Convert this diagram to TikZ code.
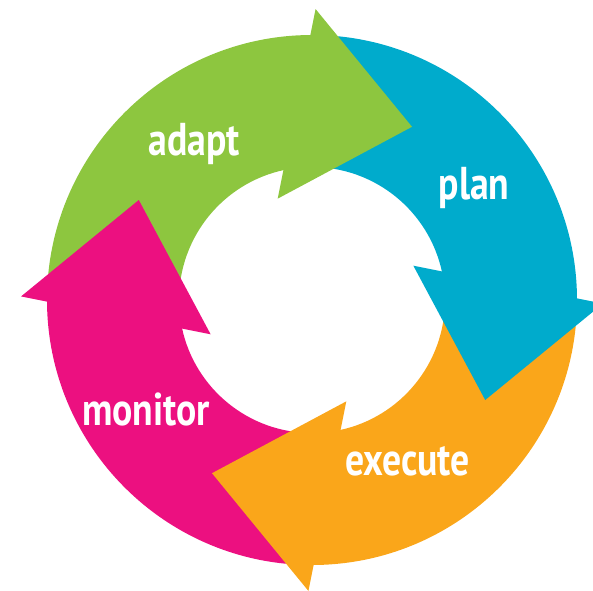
\documentclass[tikz,border=0pt]{standalone}
\usepackage{fontspec}
\newfontfamily\lblfont[FakeStretch=0.82]{PT Sans}
\definecolor{cgreen}{RGB}{141,198,63}
\definecolor{cblue}{RGB}{0,171,204}
\definecolor{corange}{RGB}{250,166,26}
\definecolor{cpink}{RGB}{236,16,128}
\begin{document}
\begin{tikzpicture}[x=1pt,y=1pt,
  lbl/.style={text=white, inner sep=0pt, anchor=base,
    font={\lblfont\bfseries\fontsize{46}{46}\selectfont}}]
\useasboundingbox (-312,-290) rectangle (281,300);
% ring bands (drawn first)
\foreach \off/\col in {0/cgreen,-90/cblue,-180/corange,-270/cpink}{
  \pgfmathsetmacro\sa{180+\off}
  \pgfmathsetmacro\ea{90+\off}
  \pgfmathsetmacro\ia{102+\off}
  \fill[\col] (\sa:265) arc[start angle=\sa, end angle=\ea, radius=265]
    -- (\ia:133) arc[start angle=\ia, end angle=\sa, radius=133] -- cycle;
}
% arrow heads (drawn on top)
\foreach \off/\col in {0/cgreen,-90/cblue,-180/corange,-270/cpink}{
  \pgfmathsetmacro\oa{89.3+\off}
  \pgfmathsetmacro\ta{60+\off}
  \pgfmathsetmacro\ib{108.7+\off}
  \fill[\col] (\oa:291) -- (\ta:200) -- (\ib:107) -- cycle;
}
\node[lbl] (adapt) at (-117.5,145) {adapt};
\node[lbl] (plan) at (162,101) {plan};
\node[lbl] (execute) at (95.5,-175) {execute};
\node[lbl] (monitor) at (-166,-125) {monitor};
\end{tikzpicture}
\end{document}
